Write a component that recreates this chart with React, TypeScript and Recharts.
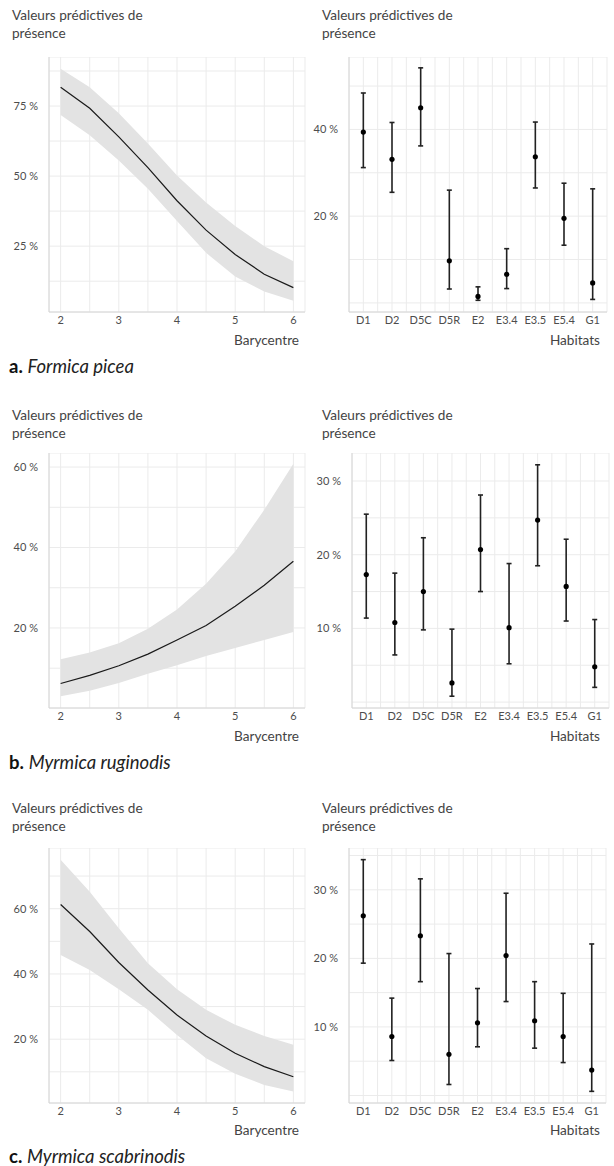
import React from 'react'
import { ComposedChart, Area, Line, XAxis, YAxis, CartesianGrid, ErrorBar } from 'recharts'

// barycentre curves (left column)
const barycentre = [2, 2.5, 3, 3.5, 4, 4.5, 5, 5.5, 6]
const baryTicks = [2, 2.5, 3, 3.5, 4, 4.5, 5, 5.5, 6]

const fitA = [81.7, 74.2, 64.0, 53.0, 41.2, 30.7, 22.0, 15.0, 10.2]
const upA = [88.3, 81.7, 72.4, 61.6, 50.2, 40.6, 32.2, 25.0, 19.6]
const lowA = [71.8, 64.6, 55.6, 45.5, 34.0, 22.6, 14.2, 8.8, 5.5]

const fitB = [6.2, 8.2, 10.6, 13.5, 17.0, 20.6, 25.4, 30.6, 36.6]
const upB = [12.2, 13.9, 16.2, 19.8, 24.6, 31.0, 39.0, 49.4, 60.8]
const lowB = [3.0, 4.4, 6.3, 8.6, 10.7, 13.0, 15.0, 17.0, 19.0]

const fitC = [61.3, 53.0, 43.5, 35.1, 27.4, 21.0, 15.7, 11.6, 8.5]
const upC = [75.0, 65.2, 54.0, 43.3, 35.3, 29.0, 24.4, 21.0, 18.3]
const lowC = [45.8, 41.2, 35.3, 29.0, 21.3, 14.2, 9.4, 6.0, 4.0]

// habitat estimates (right column)
const habitats = ['D1', 'D2', 'D5C', 'D5R', 'E2', 'E3.4', 'E3.5', 'E5.4', 'G1']

const estA = [39.4, 33.1, 45.0, 9.7, 1.5, 6.6, 33.7, 19.5, 4.6]
const loA = [31.2, 25.5, 36.2, 3.2, 0.6, 3.3, 26.5, 13.3, 0.8]
const hiA = [48.4, 41.6, 54.2, 26.0, 3.7, 12.5, 41.7, 27.6, 26.3]

const estB = [17.3, 10.8, 15.0, 2.6, 20.7, 10.1, 24.7, 15.7, 4.8]
const loB = [11.4, 6.4, 9.8, 0.8, 15.0, 5.2, 18.5, 11.0, 2.0]
const hiB = [25.5, 17.5, 22.3, 9.9, 28.1, 18.8, 32.2, 22.1, 11.2]

const estC = [26.2, 8.6, 23.3, 6.0, 10.6, 20.4, 10.9, 8.6, 3.7]
const loC = [19.3, 5.1, 16.6, 1.6, 7.1, 13.7, 6.9, 4.8, 0.6]
const hiC = [34.4, 14.2, 31.6, 20.7, 15.6, 29.5, 16.6, 14.9, 22.1]

const habTicks = [1, 1.5, 2, 2.5, 3, 3.5, 4, 4.5, 5, 5.5, 6, 6.5, 7, 7.5, 8, 8.5, 9]

const FONT = 'Lato, "Open Sans", sans-serif'
const GRID = '#ebebeb'
const AXIS = '#d6d6d6'
const tickStyle = { fontSize: 11, fill: '#4d4d4d', fontFamily: FONT }

const PLOT_H = 255
const XAXIS_H = 22

function CurvePanel({ top, fit, up, low, domain, yTicks, labelled }: any) {
  const data = barycentre.map((x, i) => ({ x, fit: fit[i], band: [low[i], up[i]] }))
  return (
    <div style={{ position: 'absolute', left: 0, top }}>
      <ComposedChart width={307} height={PLOT_H + XAXIS_H} data={data} margin={{ top: 0, right: 2, bottom: 0, left: 0 }}>
        <CartesianGrid stroke={GRID} />
        <XAxis
          dataKey="x" type="number" domain={[1.8, 6.2]} ticks={baryTicks} interval={0}
          tickFormatter={(v: number) => (Number.isInteger(v) ? String(v) : '')}
          tick={tickStyle} tickLine={false} tickSize={0} tickMargin={4} axisLine={{ stroke: AXIS }} height={XAXIS_H}
        />
        <YAxis
          type="number" domain={domain} ticks={yTicks} interval={0} width={49}
          tickFormatter={(v: number) => (labelled.includes(v) ? `${v} %` : '')}
          tick={tickStyle} tickLine={false} tickSize={0} tickMargin={11} axisLine={{ stroke: AXIS }}
        />
        <Area dataKey="band" type="linear" stroke="none" fill="#e3e3e3" fillOpacity={1} isAnimationActive={false} />
        <Line dataKey="fit" type="linear" stroke="#1a1a1a" strokeWidth={1.2} dot={false} isAnimationActive={false} />
      </ComposedChart>
    </div>
  )
}

function HabitatPanel({ top, est, lo, hi, domain, yTicks, labelled, yWidth, right }: any) {
  const data = habitats.map((h, i) => ({ pos: i + 1, est: est[i], err: [est[i] - lo[i], hi[i] - est[i]] }))
  return (
    <div style={{ position: 'absolute', left: 300, top }}>
      <ComposedChart width={314} height={PLOT_H + XAXIS_H} data={data} margin={{ top: 0, right, bottom: 0, left: 0 }}>
        <CartesianGrid stroke={GRID} />
        <XAxis
          dataKey="pos" type="number" domain={[0.5, 9.5]} ticks={habTicks} interval={0}
          tickFormatter={(v: number) => (Number.isInteger(v) ? habitats[v - 1] : '')}
          tick={tickStyle} tickLine={false} tickSize={0} tickMargin={4} axisLine={{ stroke: AXIS }} height={XAXIS_H}
        />
        <YAxis
          type="number" domain={domain} ticks={yTicks} interval={0} width={yWidth}
          tickFormatter={(v: number) => (labelled.includes(v) ? `${v} %` : '')}
          tick={tickStyle} tickLine={false} tickSize={0} tickMargin={11} axisLine={{ stroke: AXIS }}
        />
        <Line
          dataKey="est" stroke="transparent" strokeWidth={0}
          dot={{ r: 2.6, fill: '#000', stroke: '#000', strokeWidth: 0 }} isAnimationActive={false}
        >
          <ErrorBar dataKey="err" direction="y" width={2.5} stroke="#222" strokeWidth={1.6} />
        </Line>
      </ComposedChart>
    </div>
  )
}

const txt = { position: 'absolute' as const, fontFamily: FONT, color: '#444', fontSize: 13.6, lineHeight: '18px' }

function Row({ titleTop, axisTop, capTop, letter, species }: any) {
  return (
    <>
      <div style={{ ...txt, left: 12, top: titleTop }}>Valeurs prédictives de<br />présence</div>
      <div style={{ ...txt, left: 322, top: titleTop }}>Valeurs prédictives de<br />présence</div>
      <div style={{ ...txt, left: 0, width: 299, textAlign: 'right', top: axisTop }}>Barycentre</div>
      <div style={{ ...txt, left: 300, width: 300, textAlign: 'right', top: axisTop }}>Habitats</div>
      <div style={{ ...txt, left: 9, top: capTop, fontSize: 18.5, lineHeight: '18px', color: '#222' }}>
        <b style={{ color: '#111' }}>{letter}</b> <i>{species}</i>
      </div>
    </>
  )
}

export default function App() {
  return (
    <div style={{ position: 'absolute', left: 0, top: 0, width: 614, height: 1166, background: '#fff', overflow: 'hidden' }}>
      <Row titleTop={6} axisTop={331} capTop={357} letter="a." species="Formica picea" />
      <CurvePanel top={57} fit={fitA} up={upA} low={lowA} domain={[1.5, 92.5]}
        yTicks={[12.5, 25, 37.5, 50, 62.5, 75, 87.5]} labelled={[25, 50, 75]} />
      <HabitatPanel top={57} est={estA} lo={loA} hi={hiA} domain={[-2.1, 56.7]}
        yTicks={[0, 10, 20, 30, 40, 50]} labelled={[20, 40]} yWidth={49} right={7} />

      <Row titleTop={406} axisTop={727} capTop={753} letter="b." species="Myrmica ruginodis" />
      <CurvePanel top={453} fit={fitB} up={upB} low={lowB} domain={[0.1, 63.5]}
        yTicks={[10, 20, 30, 40, 50, 60]} labelled={[20, 40, 60]} />
      <HabitatPanel top={453} est={estB} lo={loB} hi={hiB} domain={[-0.8, 33.8]}
        yTicks={[0, 5, 10, 15, 20, 25, 30]} labelled={[10, 20, 30]} yWidth={52} right={5} />

      <Row titleTop={799} axisTop={1121} capTop={1147} letter="c." species="Myrmica scabrinodis" />
      <CurvePanel top={848} fit={fitC} up={upC} low={lowC} domain={[0.45, 78.6]}
        yTicks={[10, 20, 30, 40, 50, 60, 70]} labelled={[20, 40, 60]} />
      <HabitatPanel top={848} est={estC} lo={loC} hi={hiC} domain={[-1.1, 36.1]}
        yTicks={[0, 5, 10, 15, 20, 25, 30, 35]} labelled={[10, 20, 30]} yWidth={49} right={8} />
    </div>
  )
}
